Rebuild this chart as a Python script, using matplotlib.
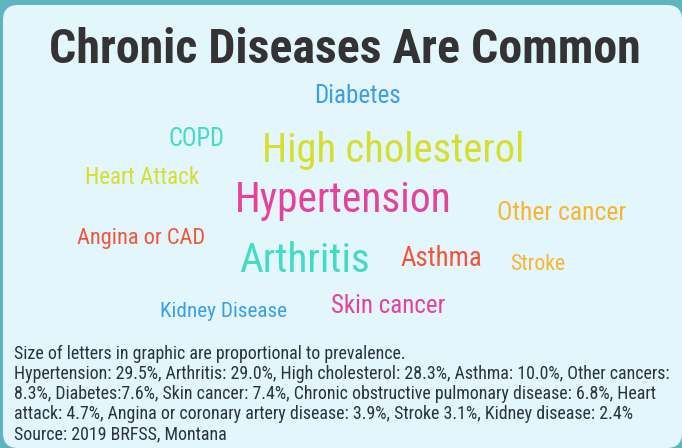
import matplotlib
matplotlib.use("Agg")
import matplotlib.pyplot as plt
from matplotlib.patches import FancyBboxPatch

fam = "Roboto Condensed"

title = "Chronic Diseases Are Common"
words = ["Diabetes", "COPD", "High cholesterol", "Heart Attack", "Hypertension",
         "Other cancer", "Angina or CAD", "Arthritis", "Asthma", "Stroke",
         "Kidney Disease", "Skin cancer"]
prevalence = [7.6, 6.8, 28.3, 4.7, 29.5, 8.3, 3.9, 29.0, 10.0, 3.1, 2.4, 7.4]

note_lines = [
    "Size of letters in graphic are proportional to prevalence.",
    "Hypertension: 29.5%, Arthritis: 29.0%, High cholesterol: 28.3%, Asthma: 10.0%, Other cancers:",
    "8.3%, Diabetes:7.6%, Skin cancer: 7.4%, Chronic obstructive pulmonary disease: 6.8%, Heart",
    "attack: 4.7%, Angina or coronary artery disease: 3.9%, Stroke 3.1%, Kidney disease: 2.4%",
    "Source: 2019 BRFSS, Montana",
]

# layout of the cloud (pixel centre x, baseline y)
layout = [(357, 103), (196, 146), (393, 162), (142, 184), (343, 212),
          (562, 220), (141, 244), (304, 272), (441, 266), (538, 270),
          (224, 317), (388, 313)]
palette = {"blue": "#3b9ee8", "teal": "#40dcc3", "lime": "#d6df2e",
           "pink": "#e6429b", "orange": "#f6b632", "red": "#f2553a"}
word_colors = ["blue", "teal", "lime", "lime", "pink", "orange", "red",
               "teal", "red", "orange", "blue", "pink"]

W, H = 682, 448
fig = plt.figure(figsize=(W / 100, H / 100), dpi=100, facecolor="#5fb4bf")
ax = fig.add_axes([0, 0, 1, 1])
ax.set_xlim(0, W)
ax.set_ylim(H, 0)
ax.axis("off")

r = 15
panel = FancyBboxPatch((3 + r, 5 + r), 679 - 2 * r, 443 - 2 * r,
                       boxstyle=f"round,pad={r}", fc="#e2f6fc", ec="none")
ax.add_patch(panel)

ax.text(345, 63, title, ha="center", va="baseline", fontsize=34.5,
        fontweight="bold", color="#333333", family=fam)

for w, p, (x, y), c in zip(words, prevalence, layout, word_colors):
    size = 14 + 0.54 * p
    ax.text(x, y, w, ha="center", va="baseline", fontsize=size,
            color=palette[c], family=fam)

# multi-line baseline sits on the last line
ax.text(14, 439, "\n".join(note_lines), ha="left", va="baseline",
        fontsize=12.9, color="#2b3240", family=fam, linespacing=1.135)

fig.savefig("out.png", dpi=100, facecolor=fig.get_facecolor())
